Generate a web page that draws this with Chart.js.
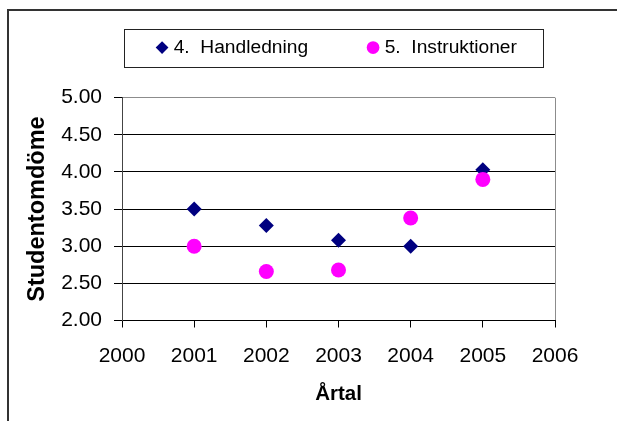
<!DOCTYPE html>
<html>
<head>
<meta charset="utf-8">
<script src="https://cdn.jsdelivr.net/npm/chart.js@4"></script>
<style>
  body { margin: 0; background: #fff; }
  canvas { display: block; }
</style>
</head>
<body>
<canvas id="chart-canvas" width="617" height="421"></canvas>
<script>
var years = [2001, 2002, 2003, 2004, 2005]
var handledning = [3.50, 3.28, 3.08, 3.00, 4.03]
var instruktioner = [3.00, 2.66, 2.68, 3.38, 3.90]
var series_names = ['4.  Handledning      ', '5.  Instruktioner']
var x_title = 'Årtal'
var y_title = 'Studentomdöme'

var font_family = "'Liberation Sans', Arial, sans-serif"

function toPoints(values) {
  return years.map(function (year, i) { return { x: year, y: values[i] } })
}

// outer frame + box around the legend
var framePlugin = {
  id: 'frame',
  afterDraw: function (chart) {
    var ctx = chart.ctx
    ctx.save()
    ctx.strokeStyle = '#333'
    ctx.lineWidth = 2
    ctx.beginPath()
    ctx.moveTo(8, chart.height)
    ctx.lineTo(8, 10)
    ctx.lineTo(chart.width, 10)
    ctx.stroke()

    var hb = chart.legend.legendHitBoxes
    if (hb && hb.length) {
      var first = hb[0], last = hb[hb.length - 1]
      var cy = first.top + first.height / 2
      var left = Math.round(first.left - 36) + 0.5
      var right = Math.round(last.left + last.width + 26) + 0.5
      var top = Math.round(cy - 18.5) + 0.5
      var bottom = Math.round(cy + 19.5) + 0.5
      ctx.lineWidth = 1
      ctx.strokeStyle = '#222'
      ctx.strokeRect(left, top, right - left, bottom - top)
    }
    ctx.restore()
  }
}

var ctx = document.getElementById('chart-canvas').getContext('2d')
var chart = new Chart(ctx, {
  type: 'scatter',
  data: {
    datasets: [{
      label: series_names[0],
      data: toPoints(handledning),
      pointStyle: 'rectRot',
      pointRadius: 7.5,
      pointHoverRadius: 7.5,
      backgroundColor: '#000080',
      borderColor: '#000080',
      borderWidth: 0,
      order: 1
    }, {
      label: series_names[1],
      data: toPoints(instruktioner),
      pointStyle: 'circle',
      pointRadius: 7.5,
      pointHoverRadius: 7.5,
      backgroundColor: '#ff00ff',
      borderColor: '#ff00ff',
      borderWidth: 0,
      order: 0
    }]
  },
  options: {
    responsive: false,
    animation: false,
    events: [],
    layout: {
      padding: { left: 10, right: 62, top: 7, bottom: 4 }
    },
    plugins: {
      tooltip: { enabled: false },
      legend: {
        position: 'top',
        fullSize: false,
        labels: {
          usePointStyle: true,
          boxWidth: 4,
          boxHeight: 9,
          padding: 31,
          color: '#000',
          font: { family: font_family, size: 19.2 },
          sort: function (a, b) { return a.datasetIndex - b.datasetIndex }
        }
      },
      // empty spacer between the legend and the plot
      subtitle: {
        display: true,
        text: ' ',
        position: 'top',
        weight: 500,
        font: { size: 1 },
        padding: { top: 15, bottom: 14.3 }
      }
    },
    scales: {
      x: {
        type: 'linear',
        min: 2000,
        max: 2006,
        afterFit: function (scale) { scale.height = 421 - 320.5 - 4 },
        ticks: {
          stepSize: 1,
          color: '#000',
          padding: 16,
          font: { family: font_family, size: 21 },
          callback: function (v) { return String(v) }
        },
        grid: {
          drawOnChartArea: true,
          tickLength: 7,
          tickColor: '#000',
          color: function (c) { return c.tick && c.tick.value === 2006 ? '#8c8c8c' : 'rgba(0,0,0,0)' }
        },
        border: { color: '#000', width: 1 },
        title: {
          display: true,
          text: x_title,
          color: '#000',
          padding: { top: 8, bottom: 10 },
          font: { family: font_family, size: 20.5, weight: 'bold' }
        }
      },
      y: {
        min: 2,
        max: 5,
        afterFit: function (scale) { scale.width = 122 - 10 },
        ticks: {
          stepSize: 0.5,
          autoSkip: false,
          color: '#000',
          padding: 12,
          font: { family: font_family, size: 21 },
          callback: function (v) { return v.toFixed(2) }
        },
        grid: {
          tickLength: 8,
          tickColor: '#000',
          color: function (c) { return c.tick && c.tick.value === 5 ? '#8c8c8c' : '#000' }
        },
        border: { color: '#444', width: 1 },
        title: {
          display: true,
          text: y_title,
          color: '#000',
          padding: { top: 13, bottom: 0 },
          font: { family: font_family, size: 23.5, weight: 'bold' }
        }
      }
    }
  },
  plugins: [framePlugin]
})
</script>
</body>
</html>
